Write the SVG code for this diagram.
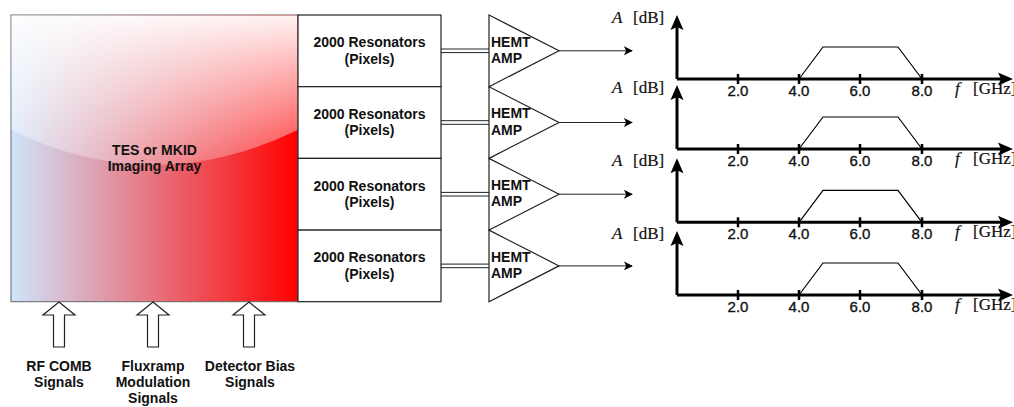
<svg xmlns="http://www.w3.org/2000/svg" width="1014" height="407" viewBox="0 0 1014 407">
<defs>
<linearGradient id="arr" x1="0" y1="0" x2="1" y2="0">
<stop offset="0" stop-color="#cfe5fb"/>
<stop offset="1" stop-color="#ff0000"/>
</linearGradient>
<linearGradient id="gloss" x1="0" y1="0" x2="0" y2="1">
<stop offset="0" stop-color="#ffffff" stop-opacity="0.95"/>
<stop offset="1" stop-color="#ffffff" stop-opacity="0.25"/>
</linearGradient>
<marker id="ah" viewBox="0 0 10 10" refX="9" refY="5" markerWidth="9" markerHeight="9" markerUnits="userSpaceOnUse" orient="auto">
<path d="M0,0 L10,5 L0,10 L2.5,5 Z" fill="#000"/>
</marker>
<g id="chart">
<polyline points="122,0 146,-32 221,-32 245,0" fill="none" stroke="#000" stroke-width="1.2"/>
<line x1="0" y1="0" x2="0" y2="-60" stroke="#000" stroke-width="3"/>
<path d="M0,-64 L-6.5,-49 L0,-52 L6.5,-49 Z" fill="#000"/>
<line x1="0" y1="0" x2="328" y2="0" stroke="#000" stroke-width="3"/>
<path d="M336,0 L321,-6.5 L324,0 L321,6.5 Z" fill="#000"/>
<g stroke="#000" stroke-width="2.5">
<line x1="61" y1="-5" x2="61" y2="5"/>
<line x1="122" y1="-5" x2="122" y2="5"/>
<line x1="183" y1="-5" x2="183" y2="5"/>
<line x1="245" y1="-5" x2="245" y2="5"/>
</g>
<g class="tick">
<text x="61" y="17">2.0</text>
<text x="122" y="17">4.0</text>
<text x="183" y="17">6.0</text>
<text x="245" y="17">8.0</text>
</g>
<text class="math" x="-65" y="-56.5"><tspan font-style="italic">A</tspan><tspan x="-44">[dB]</tspan></text>
<text class="math" x="278" y="15"><tspan font-style="italic">f</tspan><tspan x="296">[GHz]</tspan></text>
</g>
</defs>
<style>
.lbl{font-family:"Liberation Sans",Arial,sans-serif;font-size:14px;font-weight:bold;fill:#111;}
.mid{text-anchor:middle;}
.box{fill:#fff;stroke:#222;stroke-width:1.2;}
.tick{font-family:"Liberation Sans",Arial,sans-serif;font-size:15px;fill:#111;stroke:#111;stroke-width:0.35;text-anchor:middle;}
.math{font-family:"Liberation Serif","Times New Roman",serif;font-size:17px;fill:#111;stroke:#111;stroke-width:0.2;}
.ln{stroke:#222;stroke-width:1;fill:none;}
</style>
<rect width="1014" height="407" fill="#fff"/>

<g id="array">
<rect x="11" y="15" width="287" height="286.7" fill="url(#arr)" stroke="#666" stroke-width="1"/>
<path d="M11.5,15.5 L297.5,15.5 L297.5,130 Q154.5,200 11.5,130 Z" fill="url(#gloss)"/>
<text class="lbl mid" x="154.5" y="155">TES or MKID</text>
<text class="lbl mid" x="154.5" y="171">Imaging Array</text>
</g>

<g id="resonators">
<g id="res1"><rect class="box" x="298" y="15" width="143" height="71.7"/>
<text class="lbl mid" x="369.5" y="47.3">2000 Resonators</text><text class="lbl mid" x="369.5" y="63.5">(Pixels)</text></g>
<g id="res2"><rect class="box" x="298" y="86.7" width="143" height="71.7"/>
<text class="lbl mid" x="369.5" y="119">2000 Resonators</text><text class="lbl mid" x="369.5" y="135.2">(Pixels)</text></g>
<g id="res3"><rect class="box" x="298" y="158.4" width="143" height="71.7"/>
<text class="lbl mid" x="369.5" y="190.7">2000 Resonators</text><text class="lbl mid" x="369.5" y="206.9">(Pixels)</text></g>
<g id="res4"><rect class="box" x="298" y="230.1" width="143" height="71.6"/>
<text class="lbl mid" x="369.5" y="262.4">2000 Resonators</text><text class="lbl mid" x="369.5" y="278.6">(Pixels)</text></g>
</g>

<g id="amps">
<g id="amp1"><polygon class="box" points="489,15 559,50.8 489,86.7"/>
<text class="lbl" x="491" y="46.5">HEMT</text><text class="lbl" x="491" y="63">AMP</text></g>
<g id="amp2"><polygon class="box" points="489,86.7 559,122.5 489,158.4"/>
<text class="lbl" x="491" y="118.2">HEMT</text><text class="lbl" x="491" y="134.7">AMP</text></g>
<g id="amp3"><polygon class="box" points="489,158.4 559,194.2 489,230.1"/>
<text class="lbl" x="491" y="189.9">HEMT</text><text class="lbl" x="491" y="206.4">AMP</text></g>
<g id="amp4"><polygon class="box" points="489,230.1 559,265.9 489,301.7"/>
<text class="lbl" x="491" y="261.6">HEMT</text><text class="lbl" x="491" y="278.1">AMP</text></g>
</g>

<g id="inputs">
<g id="in1"><polygon class="box" points="59,302 75,315 64.5,315 64.5,347 53.5,347 53.5,315 43,315"/>
<text class="lbl mid" x="59" y="371">RF COMB</text><text class="lbl mid" x="59" y="387">Signals</text></g>
<g id="in2"><polygon class="box" points="153,302 169,315 158.5,315 158.5,347 147.5,347 147.5,315 137,315"/>
<text class="lbl mid" x="153" y="371">Fluxramp</text><text class="lbl mid" x="153" y="387">Modulation</text><text class="lbl mid" x="153" y="403">Signals</text></g>
<g id="in3"><polygon class="box" points="249,302 265,315 254.5,315 254.5,347 243.5,347 243.5,315 233,315"/>
<text class="lbl mid" x="250" y="371">Detector Bias</text><text class="lbl mid" x="250" y="387">Signals</text></g>
</g>

<g id="connectors">
<line class="ln" x1="441" y1="49" x2="489" y2="49"/><line class="ln" x1="441" y1="52.6" x2="489" y2="52.6"/>
<line class="ln" x1="441" y1="120.7" x2="489" y2="120.7"/><line class="ln" x1="441" y1="124.3" x2="489" y2="124.3"/>
<line class="ln" x1="441" y1="192.4" x2="489" y2="192.4"/><line class="ln" x1="441" y1="196" x2="489" y2="196"/>
<line class="ln" x1="441" y1="264.1" x2="489" y2="264.1"/><line class="ln" x1="441" y1="267.7" x2="489" y2="267.7"/>
<line class="ln" x1="559" y1="50.8" x2="632" y2="50.8" marker-end="url(#ah)"/>
<line class="ln" x1="559" y1="122.5" x2="632" y2="122.5" marker-end="url(#ah)"/>
<line class="ln" x1="559" y1="194.2" x2="632" y2="194.2" marker-end="url(#ah)"/>
<line class="ln" x1="559" y1="265.9" x2="632" y2="265.9" marker-end="url(#ah)"/>
</g>

<g id="chart1"><use href="#chart" x="677" y="79"/></g>
<g id="chart2"><use href="#chart" x="677" y="149"/></g>
<g id="chart3"><use href="#chart" x="677" y="222.3"/></g>
<g id="chart4"><use href="#chart" x="677" y="295"/></g>
</svg>
